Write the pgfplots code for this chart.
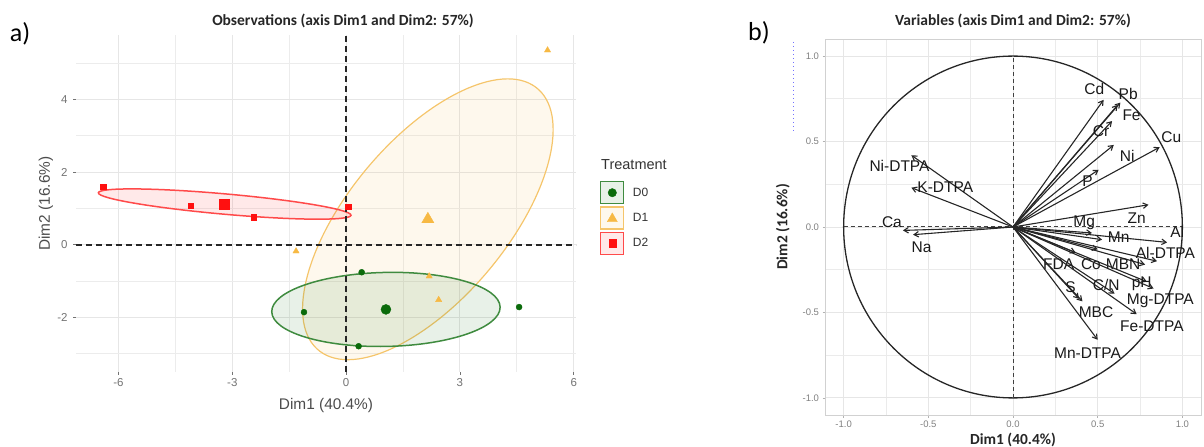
\documentclass[border=0pt]{standalone}
\usepackage{pgfplots}
\pgfplotsset{compat=1.18}
\usepackage{fontspec}
\setmainfont{Liberation Sans}
\newfontfamily\calfont{Carlito}
\usetikzlibrary{arrows.meta}

\definecolor{d0pt}{HTML}{0B6B0B}
\definecolor{d0line}{HTML}{3F8B3F}
\definecolor{d1pt}{HTML}{F7B944}
\definecolor{d1line}{HTML}{F5C56B}
\definecolor{d2pt}{HTML}{FF1010}
\definecolor{d2line}{HTML}{FF4A4A}
\definecolor{gridc}{HTML}{E6E6E6}

\newcommand{\fs}[1]{\fontsize{#1bp}{#1bp}\selectfont}
\newcommand{\varr}[5]{%
  \addplot[arr] coordinates {(0,0) (#1,#2)};
  \node[font=\fs{15.5}, text=black!90, inner sep=0pt] at (axis cs:#3,#4) {#5};
}

\begin{document}
\begin{tikzpicture}
\path[use as bounding box] (0,0) rectangle (1204bp,447bp);

% ---------------- Panel a ----------------
\begin{axis}[
  at={(76bp,75bp)}, anchor=south west, scale only axis,
  width=500bp, height=337bp,
  xmin=-7.12, xmax=6.06, ymin=-3.51, ymax=5.78,
  disabledatascaling,
  xtick={-6,-3,0,3,6}, ytick={-2,0,2,4},
  minor xtick={-4.5,-1.5,1.5,4.5}, minor ytick={-3,-1,1,3,5},
  grid=both,
  major grid style={draw=gridc, line width=1.1bp},
  minor grid style={draw=gridc!75, line width=0.7bp},
  axis line style={draw=none},
  xtick pos=bottom, ytick pos=left,
  tick align=outside, major tick length=3bp, minor tick length=0pt,
  tick style={draw=black!55, line width=0.8bp},
  /pgf/number format/assume math mode=true,
  ticklabel style={font=\fs{11.5}, text=black!55},
  yticklabel style={xshift=-2bp},
  xlabel={Dim1 (40.4\%)}, ylabel={Dim2 (16.6\%)},
  label style={font=\fs{15.4}, text=black!70},
  xlabel style={at={(axis description cs:0.5,-0.098)}, anchor=center},
  ylabel style={at={(axis description cs:-0.06,0.5)}, anchor=center},
  legend style={at={(rel axis cs:1.048,0.567)}, anchor=north west,
    draw=none, fill=none, font=\fs{12}, text=black!80,
    inner sep=0pt, row sep=2bp, nodes={inner sep=0.5bp},
    /tikz/every odd column/.append style={column sep=8bp}},
  legend cell align=left,
]
% confidence ellipses
\pgfplotsextra{%
  \begin{pgfscope}
  \pgfsetlinewidth{1.2bp}
  \pgfsetfillopacity{0.12}
  \pgfsetfillcolor{d1line}\pgfsetstrokecolor{d1line}
  \pgfpathellipse{\pgfplotspointaxisxy{2.155}{0.70}}{\pgfplotspointaxisdirectionxy{2.844}{3.641}}{\pgfplotspointaxisdirectionxy{-1.678}{1.311}}
  \pgfusepath{fill,stroke}
  \end{pgfscope}
  \begin{pgfscope}
  \pgfsetlinewidth{1.5bp}
  \pgfsetfillopacity{0.12}
  \pgfsetfillcolor{d0line}\pgfsetstrokecolor{d0line}
  \pgfpathellipse{\pgfplotspointaxisxy{1.05}{-1.785}}{\pgfplotspointaxisdirectionxy{3.01}{0.065}}{\pgfplotspointaxisdirectionxy{-0.02}{1.02}}
  \pgfusepath{fill,stroke}
  \end{pgfscope}
  \begin{pgfscope}
  \pgfsetlinewidth{1.5bp}
  \pgfsetfillopacity{0.12}
  \pgfsetfillcolor{d2line}\pgfsetstrokecolor{d2line}
  \pgfpathellipse{\pgfplotspointaxisxy{-3.2}{1.12}}{\pgfplotspointaxisdirectionxy{3.33}{-0.31}}{\pgfplotspointaxisdirectionxy{0.026}{0.279}}
  \pgfusepath{fill,stroke}
  \end{pgfscope}
}
% zero lines
\addplot[black!85, line width=1.8bp, dash pattern=on 6bp off 4bp, forget plot] coordinates {(0,-3.51) (0,5.78)};
\addplot[black!85, line width=1.8bp, dash pattern=on 6bp off 4bp, forget plot] coordinates {(-7.12,0) (6.06,0)};
% D0
\addplot[only marks, mark=*, mark size=3bp, color=d0pt, forget plot] coordinates {(0.41,-0.76) (4.56,-1.72) (0.33,-2.80) (-1.11,-1.86)};
\addplot[only marks, mark=*, mark size=5bp, color=d0pt, forget plot] coordinates {(1.05,-1.785)};
% D1
\addplot[only marks, mark=triangle*, mark size=3.6bp, color=d1pt, forget plot] coordinates {(5.31,5.36) (2.19,-0.87) (2.44,-1.52) (-1.32,-0.18)};
\addplot[only marks, mark=triangle*, mark size=7bp, color=d1pt, forget plot] coordinates {(2.155,0.70)};
% D2
\addplot[only marks, mark=square*, mark size=2.7bp, color=d2pt, forget plot] coordinates {(-6.40,1.59) (-4.09,1.08) (-2.43,0.76) (0.06,1.04)};
\addplot[only marks, mark=square*, mark size=5.2bp, color=d2pt, forget plot] coordinates {(-3.215,1.12)};
% legend
\addlegendimage{legend image code/.code={%
  \draw[draw=d0line, fill=d0line!12, line width=1.2bp] (0bp,-11bp) rectangle (23bp,11bp);
  \fill[d0pt] (11.5bp,0bp) circle (4.2bp);}}
\addlegendentry{D0}
\addlegendimage{legend image code/.code={%
  \draw[draw=d1line, fill=d1line!12, line width=1.2bp] (0bp,-11bp) rectangle (23bp,11bp);
  \fill[d1pt] (11.5bp,5bp) -- (16.5bp,-3.8bp) -- (6.5bp,-3.8bp) -- cycle;}}
\addlegendentry{D1}
\addlegendimage{legend image code/.code={%
  \draw[draw=d2line, fill=d2line!12, line width=1.2bp] (0bp,-11bp) rectangle (23bp,11bp);
  \fill[d2pt] (8bp,-3.6bp) rectangle (15bp,3.6bp);}}
\addlegendentry{D2}
\end{axis}

% ---------------- Panel b ----------------
\begin{axis}[
  at={(825bp,32bp)}, anchor=south west, scale only axis,
  width=376bp, height=376bp,
  xmin=-1.11, xmax=1.11, ymin=-1.10, ymax=1.10,
  xtick={-1,-0.5,0,0.5,1}, ytick={-1,-0.5,0,0.5,1},
  xticklabels={-1.0,-0.5,0.0,0.5,1.0}, yticklabels={-1.0,-0.5,0.0,0.5,1.0},
  minor xtick={-0.75,-0.25,0.25,0.75}, minor ytick={-0.75,-0.25,0.25,0.75},
  grid=both,
  major grid style={draw=gridc, line width=0.9bp},
  minor grid style={draw=gridc!80, line width=0.7bp},
  axis line style={draw=black!18, line width=0.8bp},
  xtick pos=bottom, ytick pos=left,
  tick align=outside, major tick length=2.5bp, minor tick length=0pt,
  tick style={draw=black!30, line width=0.7bp},
  ticklabel style={font=\fs{9.5}, text=black!50},
  xlabel={\calfont\bfseries Dim1 (40.4\%)}, ylabel={\calfont\bfseries Dim2 (16.6\%)},
  label style={font=\fs{15.4}, text=black!85},
  xlabel style={at={(axis description cs:0.5,-0.066)}, anchor=center},
  ylabel style={at={(axis description cs:-0.112,0.5)}, anchor=center},
  arr/.style={black!85, line width=1.1bp, -{Straight Barb[length=4.5bp,width=5.5bp]}},
]
\draw[black!85, line width=1.3bp] (axis cs:0,0) circle [radius=1];
\addplot[black!75, line width=1bp, dash pattern=on 4bp off 3bp] coordinates {(0,-1) (0,1)};
\addplot[black!75, line width=1bp, dash pattern=on 4bp off 3bp] coordinates {(-1,0) (1,0)};
\varr{0.535}{0.744}{0.48}{0.81}{Cd}
\varr{0.634}{0.728}{0.68}{0.78}{Pb}
\varr{0.618}{0.714}{0.70}{0.656}{Fe}
\varr{0.585}{0.62}{0.52}{0.56}{Cr}
\varr{0.866}{0.467}{0.935}{0.526}{Cu}
\varr{0.595}{0.48}{0.674}{0.417}{Ni}
\varr{0.506}{0.335}{0.44}{0.27}{P}
\varr{0.80}{0.13}{0.73}{0.053}{Zn}
\varr{0.466}{-0.035}{0.42}{0.023}{Mg}
\varr{0.526}{-0.074}{0.624}{-0.058}{Mn}
\varr{0.91}{-0.09}{0.97}{-0.026}{Al}
\varr{0.85}{-0.20}{0.90}{-0.15}{Al-DTPA}
\varr{0.37}{-0.15}{0.27}{-0.22}{FDA}
\varr{0.50}{-0.13}{0.46}{-0.22}{Co}
\varr{0.78}{-0.22}{0.65}{-0.22}{MBN}
\varr{0.79}{-0.32}{0.76}{-0.33}{pH}
\varr{0.60}{-0.39}{0.55}{-0.34}{C/N}
\varr{0.39}{-0.42}{0.34}{-0.35}{S}
\varr{0.41}{-0.435}{0.49}{-0.50}{MBC}
\varr{0.83}{-0.36}{0.87}{-0.43}{Mg-DTPA}
\varr{0.73}{-0.51}{0.82}{-0.58}{Fe-DTPA}
\varr{0.50}{-0.66}{0.44}{-0.74}{Mn-DTPA}
\varr{-0.60}{0.42}{-0.67}{0.355}{Ni-DTPA}
\varr{-0.60}{0.23}{-0.40}{0.235}{K-DTPA}
\varr{-0.65}{-0.02}{-0.715}{0.03}{Ca}
\varr{-0.59}{-0.045}{-0.54}{-0.12}{Na}
\end{axis}

% titles and panel letters
\node[font=\calfont\bfseries\fs{15.5}, text=black!85] at (343bp,426bp) {Observations (axis Dim1 and Dim2: 57\%)};
\node[font=\calfont\bfseries\fs{15.5}, text=black!85] at (1013bp,426bp) {Variables (axis Dim1 and Dim2: 57\%)};
\node[font=\calfont\fs{26}] at (20bp,413bp) {a)};
\node[font=\calfont\fs{26}] at (759bp,414bp) {b)};
\node[anchor=west, font=\fs{14.5}, text=black!80, inner sep=0pt] at (601bp,282bp) {Treatment};
\draw[blue!55, line width=0.9bp, dash pattern=on 1.5bp off 2.5bp] (793bp,405bp) -- (793bp,315bp);
\end{tikzpicture}
\end{document}
